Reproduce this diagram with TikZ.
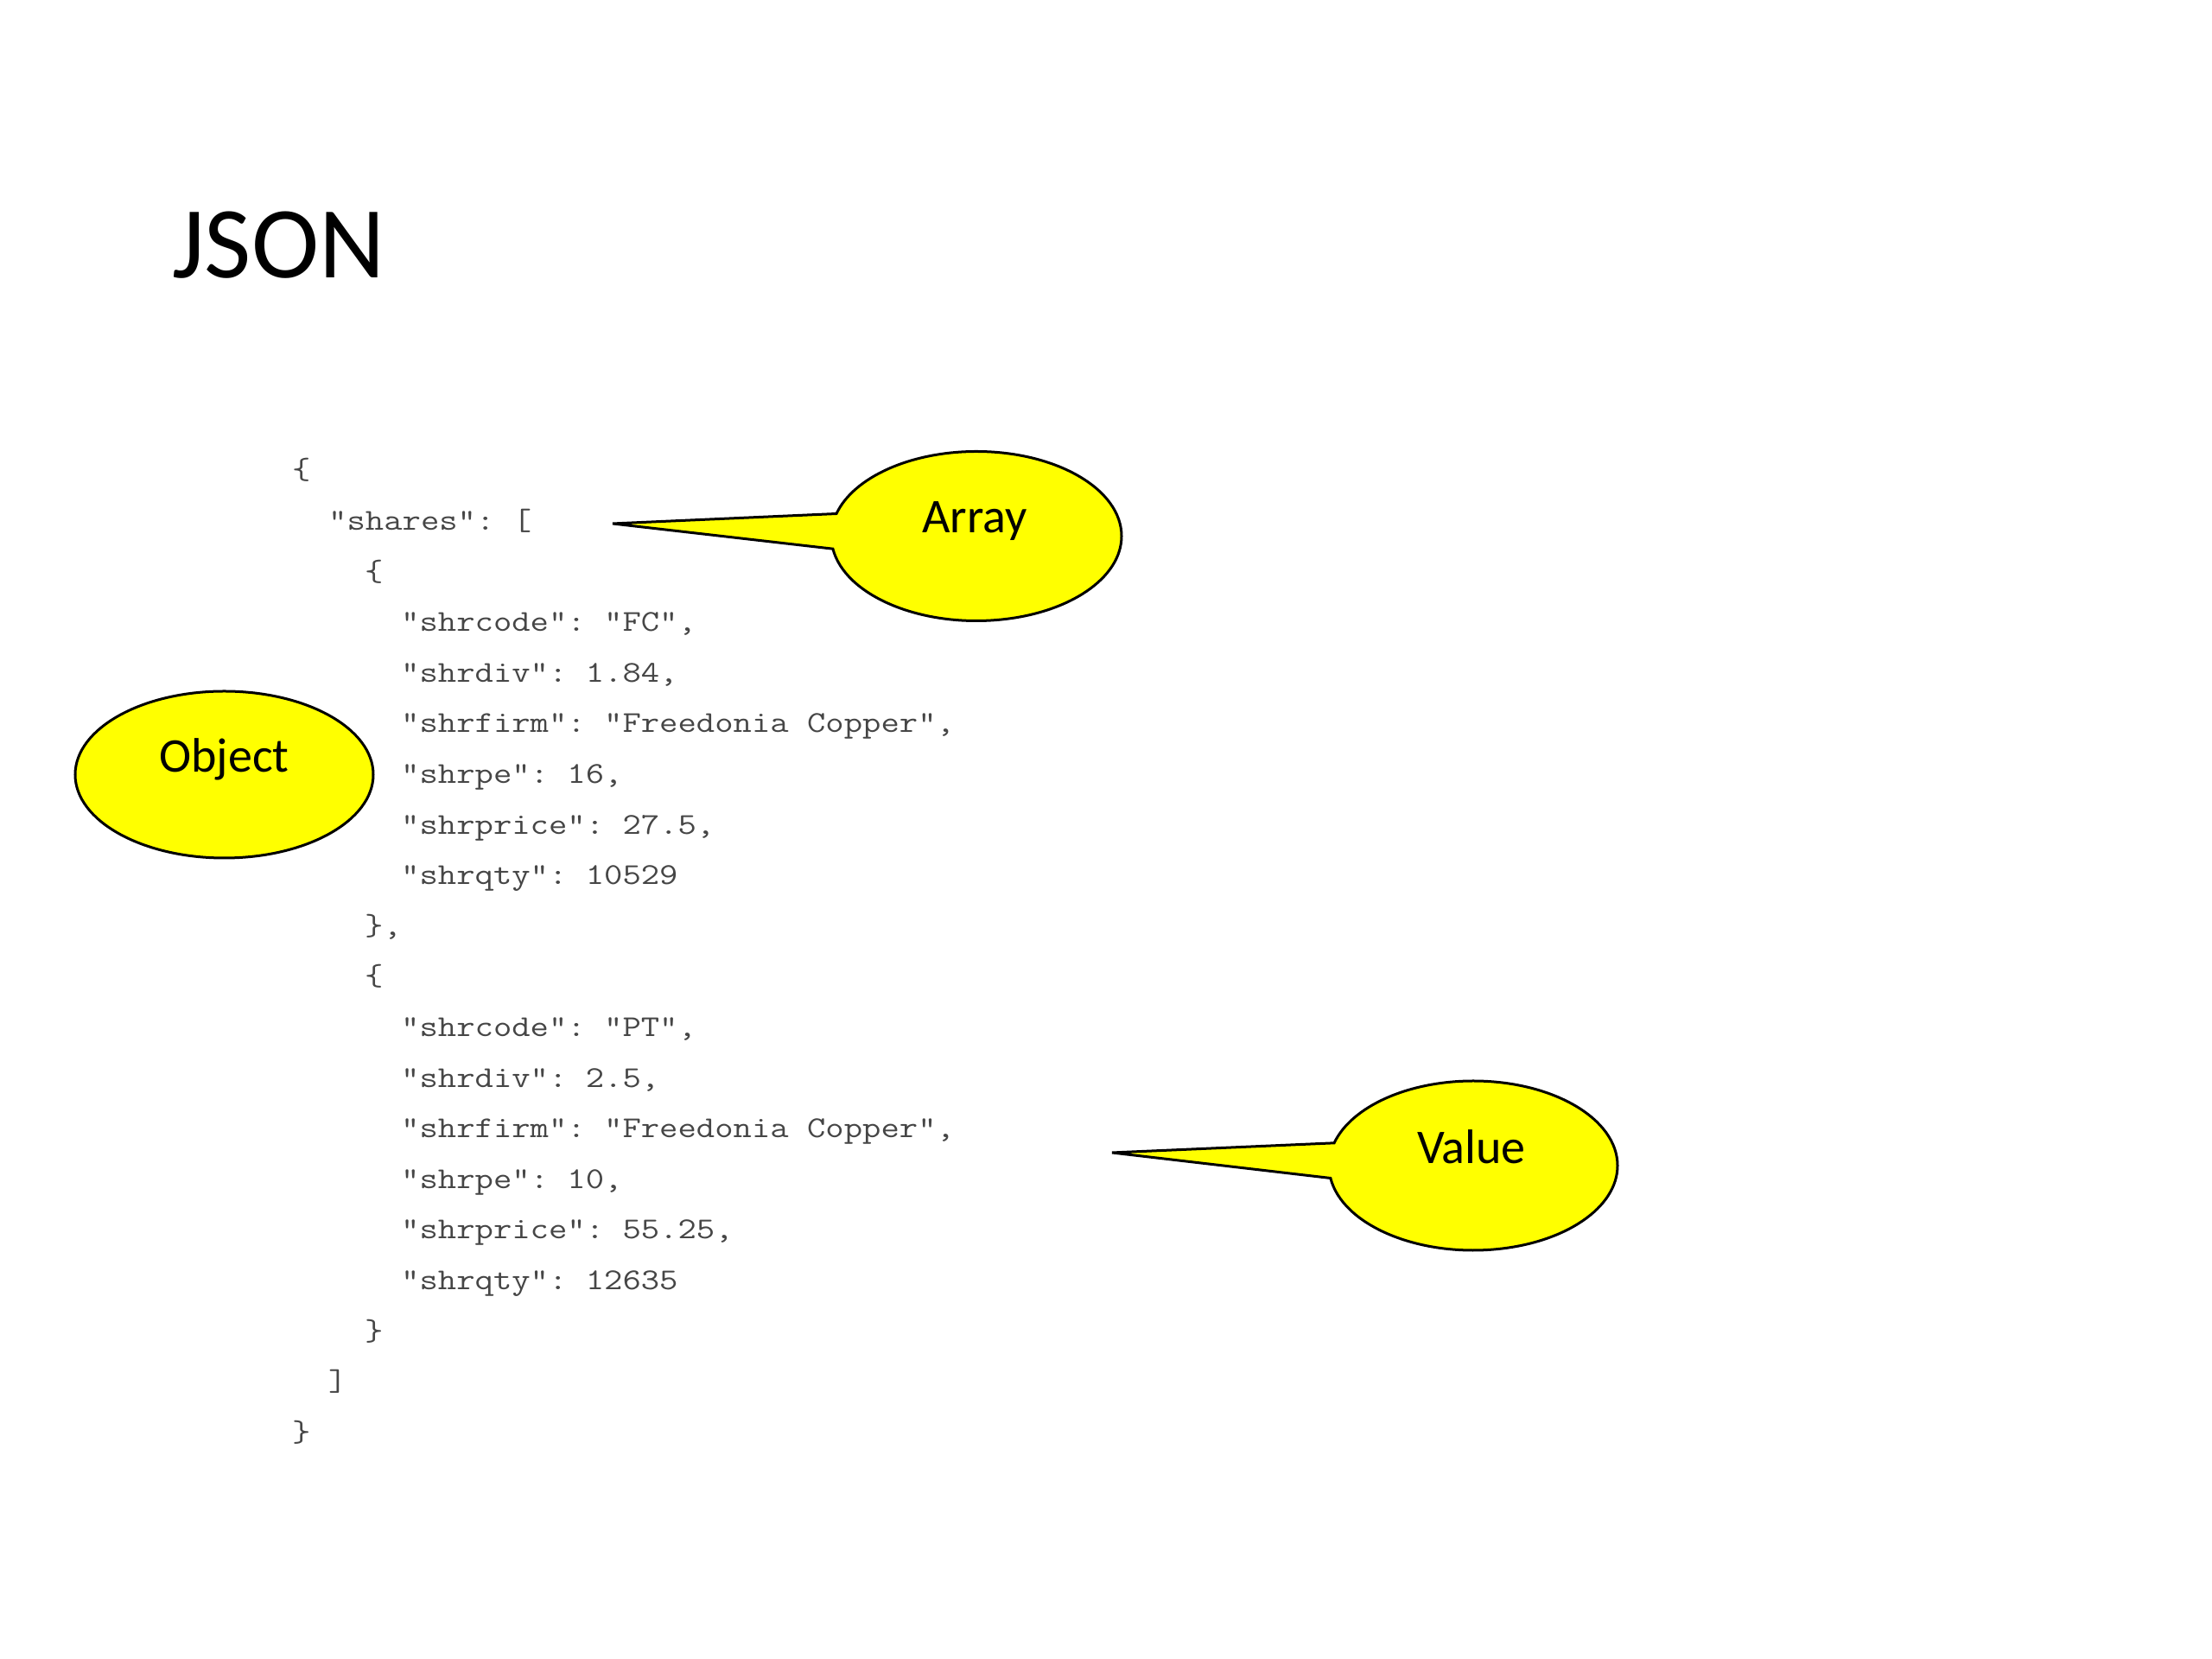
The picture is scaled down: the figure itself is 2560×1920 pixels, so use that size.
\documentclass[tikz,border=0pt]{standalone}
\usepackage{fontspec}
\setmainfont{Carlito}
\setmonofont[FakeStretch=1.185]{Latin Modern Mono}
\usetikzlibrary{shapes.geometric,shapes.callouts}
\definecolor{codegray}{RGB}{70,70,70}
\definecolor{callyellow}{RGB}{255,255,0}
\tikzset{
  codeline/.style={anchor=base west, inner sep=0pt, text=codegray, font=\ttfamily\fontsize{35}{40}\selectfont},
  bubble/.style={draw=black, line width=3pt, fill=callyellow, inner sep=0pt},
  bubbletext/.style={anchor=base, inner sep=0pt, font=\fontsize{56}{60}\selectfont},
}
\begin{document}
\begin{tikzpicture}[x=1pt,y=1pt]
\fill[white] (0,0) rectangle (2560,1920);
\useasboundingbox (0,0) rectangle (2560,1920);

% title
\node[anchor=base west, inner sep=0pt, font=\fontsize{118}{120}\selectfont] (title) at (199,1598) {JSON};

% code
\node[codeline] (l0)  at (338,1365)   {\{};
\node[codeline] (l1)  at (380,1306.4) {"shares": [};
\node[codeline] (l2)  at (422,1247.8) {\{};
\node[codeline] (l3)  at (464,1189.2) {"shrcode": "FC",};
\node[codeline] (l4)  at (464,1130.6) {"shrdiv": 1.84,};
\node[codeline] (l5)  at (464,1072)   {"shrfirm": "Freedonia Copper",};
\node[codeline] (l6)  at (464,1013.4) {"shrpe": 16,};
\node[codeline] (l7)  at (464,954.8)  {"shrprice": 27.5,};
\node[codeline] (l8)  at (464,896.2)  {"shrqty": 10529};
\node[codeline] (l9)  at (422,837.6)  {\},};
\node[codeline] (l10) at (422,779)    {\{};
\node[codeline] (l11) at (464,720.4)  {"shrcode": "PT",};
\node[codeline] (l12) at (464,661.8)  {"shrdiv": 2.5,};
\node[codeline] (l13) at (464,603.2)  {"shrfirm": "Freedonia Copper",};
\node[codeline] (l14) at (464,544.6)  {"shrpe": 10,};
\node[codeline] (l15) at (464,486)    {"shrprice": 55.25,};
\node[codeline] (l16) at (464,427.4)  {"shrqty": 12635};
\node[codeline] (l17) at (422,368.8)  {\}};
\node[codeline] (l18) at (380,310.2)  {]};
\node[codeline] (l19) at (338,251.6)  {\}};

% Object ellipse
\node[bubble, ellipse, minimum width=345pt, minimum height=193pt] (obj) at (259.5,1023.5) {};
\node[bubbletext] (objt) at (259.5,1026) {Object};

% Array callout
\coordinate (arrtip) at (709,1314);
\node[bubble, ellipse callout, minimum width=336pt, minimum height=196pt,
      callout absolute pointer={(arrtip)}, callout pointer arc=24] (arr) at (1130,1299.5) {};
\node[bubbletext] (arrt) at (1128,1303) {Array};

% Value callout
\coordinate (valtip) at (1287,586);
\node[bubble, ellipse callout, minimum width=334pt, minimum height=196pt,
      callout absolute pointer={(valtip)}, callout pointer arc=24] (val) at (1705,571) {};
\node[bubbletext] (valt) at (1703,573) {Value};
\end{tikzpicture}
\end{document}
